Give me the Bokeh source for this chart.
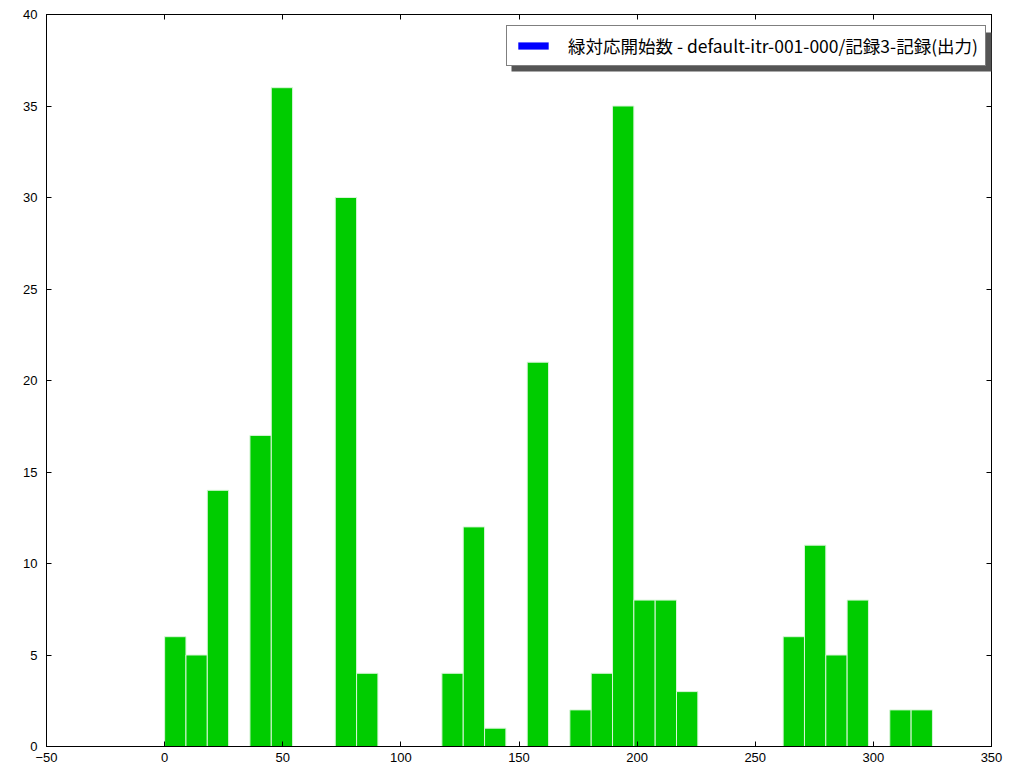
from bokeh.plotting import figure
from bokeh.models import (Legend, LegendItem, LinearAxis, Range1d, FixedTicker,
                          CustomJSTickFormatter, ColumnDataSource, BoxAnnotation, Node)
from bokeh.embed import file_html
from bokeh.resources import INLINE

# ---- data ----
bin_start = 0.0
bin_width = 325.0 / 36
counts = [6, 5, 14, 0, 17, 36, 0, 0, 30, 4, 0, 0, 0, 4, 12, 1, 0, 21, 0, 2, 4, 35,
          8, 8, 3, 0, 0, 0, 0, 6, 11, 5, 8, 0, 2, 2]
x_ticks = [-50, 0, 50, 100, 150, 200, 250, 300, 350]
y_ticks = [0, 5, 10, 15, 20, 25, 30, 35, 40]
legend_label = "緑対応開始数 - default-itr-001-000/記録3-記録(出力)"

lefts, rights, tops = [], [], []
for i, c in enumerate(counts):
    if c > 0:
        lefts.append(bin_start + i * bin_width)
        rights.append(bin_start + (i + 1) * bin_width)
        tops.append(c)
src = ColumnDataSource(dict(left=lefts, right=rights, top=tops))

p = figure(width=1014, height=766, x_range=Range1d(-50, 350), y_range=Range1d(0, 40),
           output_backend="svg", toolbar_location=None,
           min_border_left=46, min_border_right=23, min_border_top=14, min_border_bottom=20)
p.grid.visible = False
p.outline_line_color = "black"
p.outline_line_width = 1
p.background_fill_color = "white"
p.border_fill_color = "white"

fmt = CustomJSTickFormatter(code="return tick < 0 ? '\u2212' + Math.abs(tick) : String(tick);")
blank = CustomJSTickFormatter(code="return '';")

def style_axis(ax, ticks, labels=True):
    ax.ticker = FixedTicker(ticks=ticks)
    ax.major_tick_in = 5
    ax.major_tick_out = 0
    ax.minor_tick_in = 0
    ax.minor_tick_out = 0
    ax.axis_line_color = "black"
    ax.major_tick_line_color = "black"
    if labels:
        ax.formatter = fmt
        ax.major_label_text_font = "Liberation Sans"
        ax.major_label_text_font_size = "13px"
        ax.major_label_text_color = "black"
    else:
        ax.formatter = blank
        ax.major_label_standoff = 0

style_axis(p.xaxis[0], x_ticks)
p.xaxis[0].major_label_standoff = 6
style_axis(p.yaxis[0], y_ticks)
p.yaxis[0].major_label_standoff = 9

top_ax = LinearAxis()
style_axis(top_ax, x_ticks, labels=False)
p.add_layout(top_ax, "above")
right_ax = LinearAxis()
style_axis(right_ax, y_ticks, labels=False)
p.add_layout(right_ax, "right")

p.quad(left="left", right="right", top="top", bottom=0, source=src,
       fill_color="#00cc00", line_color="#d8f5d8", line_width=1)

# legend swatch renderer (zero height, invisible in the plot)
dummy = p.quad(left="left", right="right", top=0, bottom=0, source=src,
               fill_color="#0000ff", line_color=None)

legend = Legend(items=[LegendItem(label=legend_label, renderers=[dummy])], location=(460, 680))
legend.label_text_font = "Noto Sans CJK JP"
legend.label_text_font_size = "17.5px"
legend.label_text_color = "black"
legend.glyph_width = 38
legend.glyph_height = 9
legend.label_standoff = 16
legend.padding = 7
legend.label_height = 15
legend.margin = 0
legend.spacing = 0
legend.border_line_color = "black"
legend.border_line_width = 1.5
legend.background_fill_color = "white"
legend.background_fill_alpha = 1

shadow = BoxAnnotation(
    left=Node(target=legend, symbol="left", offset=5),
    right=Node(target=legend, symbol="right", offset=-4),
    top=Node(target=legend, symbol="bottom", offset=-34),
    bottom=Node(target=legend, symbol="bottom", offset=5),
    fill_color="#555555", fill_alpha=1, line_color=None)

p.add_layout(shadow, "center")
p.add_layout(legend, "center")

open("out.html", "w").write(file_html(p, INLINE))
